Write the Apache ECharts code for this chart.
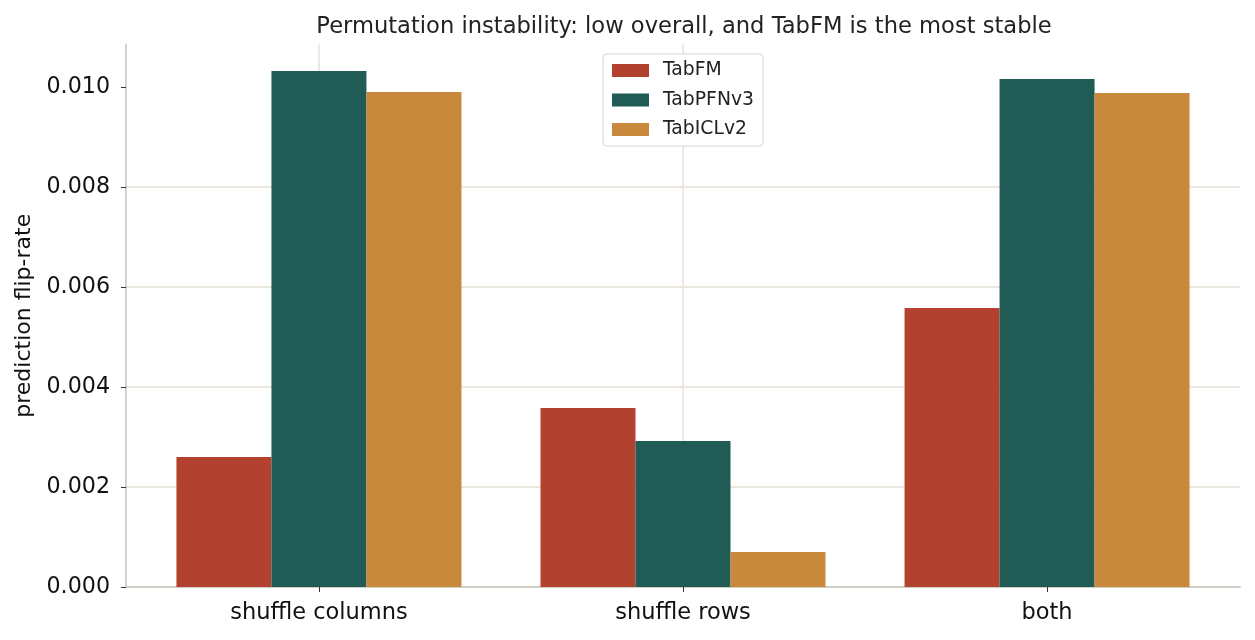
<!DOCTYPE html>
<html lang="en">
<head>
    <meta charset="UTF-8">
    <title>Permutation instability</title>
    <script src="https://cdn.jsdelivr.net/npm/echarts/dist/echarts.min.js"></script>
    <style>
        body { margin: 0; background: #fff; }
        #chart { width: 1255px; height: 640px; }
    </style>
</head>
<body>
<div id="chart"></div>
<script>
    // data
    const categories = ['shuffle columns', 'shuffle rows', 'both'];
    const seriesNames = ['TabFM', 'TabPFNv3', 'TabICLv2'];
    const tabFM = [0.0026, 0.00358, 0.00558];
    const tabPFNv3 = [0.01032, 0.00292, 0.01016];
    const tabICLv2 = [0.0099, 0.0007, 0.00988];
    const yTicks = [0, 0.002, 0.004, 0.006, 0.008, 0.010];
    const colors = ['#b3412f', '#205c55', '#c8893c'];

    const font = 'DejaVu Sans';
    const chart = echarts.init(document.getElementById('chart'));

    // x is a value axis so the category centres sit where matplotlib puts them
    function toPoints(vals) {
        return vals.map((v, i) => [i, v]);
    }

    const series = [tabFM, tabPFNv3, tabICLv2].map((vals, k) => ({
        name: seriesNames[k],
        type: 'bar',
        data: toPoints(vals),
        barWidth: 95,
        barGap: '0%',
        itemStyle: { color: colors[k] }
    }));

    const gridLine = { show: true, showMaxLine: false, lineStyle: { color: '#ebe7dc', width: 1.8 } };
    const spine = { show: true, onZero: false, lineStyle: { color: '#d0cec2', width: 1.8 } };

    chart.setOption({
        animation: false,
        textStyle: { fontFamily: font },
        title: {
            text: 'Permutation instability: low overall, and TabFM is the most stable',
            left: 679,
            textAlign: 'center',
            top: 11,
            textStyle: { fontFamily: font, fontSize: 22.6, fontWeight: 'normal', color: '#222' }
        },
        legend: {
            orient: 'vertical',
            left: 603,
            top: 54,
            selectedMode: false,
            itemWidth: 37,
            itemHeight: 13,
            itemGap: 10.5,
            padding: [7, 9, 7, 9],
            backgroundColor: '#fff',
            borderColor: '#d8d8d8',
            borderWidth: 1.2,
            borderRadius: 4,
            icon: 'rect',
            data: seriesNames,
            textStyle: { fontFamily: font, fontSize: 18.8, color: '#222', padding: [0, 0, 0, 9] }
        },
        grid: { left: 126, right: 15, top: 44.5, bottom: 53 },
        xAxis: {
            type: 'value',
            min: -0.53,
            max: 2.53,
            axisLine: spine,
            axisTick: { show: true, customValues: [0, 1, 2], length: 5, lineStyle: { color: '#333' } },
            axisLabel: {
                customValues: [0, 1, 2],
                formatter: v => categories[Math.round(v)] || '',
                fontFamily: font, fontSize: 22.5, color: '#111', margin: 15
            },
            splitLine: gridLine
        },
        yAxis: {
            type: 'value',
            min: 0,
            max: 0.01085,
            name: 'prediction flip-rate',
            nameLocation: 'middle',
            nameGap: 90,
            nameTextStyle: { fontFamily: font, fontSize: 22, color: '#111' },
            axisLine: spine,
            axisTick: { show: true, customValues: yTicks, length: 5, lineStyle: { color: '#333' } },
            axisLabel: {
                customValues: yTicks,
                formatter: v => v.toFixed(3),
                fontFamily: font, fontSize: 22.2, color: '#111', margin: 16
            },
            splitLine: gridLine
        },
        series: series
    });
</script>
</body>
</html>
